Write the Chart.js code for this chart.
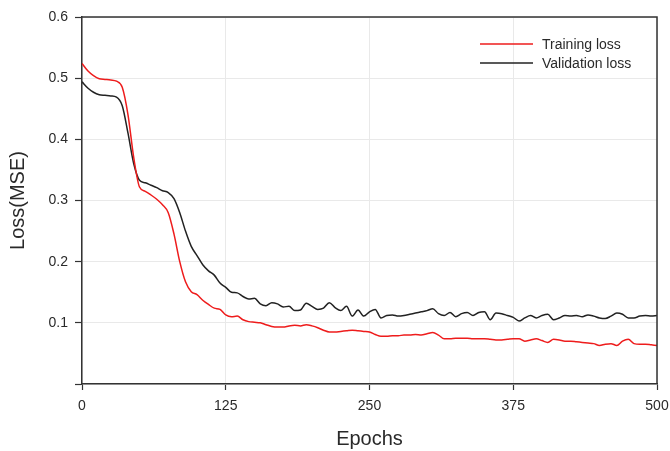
<!DOCTYPE html>
<html>
<head>
<meta charset="utf-8">
<script src="https://cdn.jsdelivr.net/npm/chart.js@4.4.1/dist/chart.umd.min.js"></script>
<style>
  html, body { margin: 0; padding: 0; background: #ffffff; }
  #wrap { width: 670px; height: 451px; position: relative; }
</style>
</head>
<body>
<div id="wrap"><canvas id="c" width="670" height="451"></canvas></div>
<script>
// Epoch positions (every 5 epochs)
const epochs = [];
for (let e = 0; e <= 500; e += 5) epochs.push(e);

// Training loss (MSE)
const trainingLoss = [
  0.524, 0.512, 0.504, 0.499, 0.498, 0.497, 0.495, 0.485, 0.440, 0.370,
  0.322, 0.315, 0.309, 0.302, 0.293, 0.280, 0.245, 0.200, 0.167, 0.151,
  0.146, 0.137, 0.130, 0.124, 0.122, 0.113, 0.110, 0.111, 0.105, 0.102,
  0.101, 0.100, 0.097, 0.094, 0.093, 0.093, 0.095, 0.096, 0.095, 0.097,
  0.095, 0.092, 0.088, 0.085, 0.085, 0.086, 0.087, 0.088, 0.087, 0.086,
  0.085, 0.081, 0.078, 0.078, 0.079, 0.079, 0.080, 0.080, 0.081, 0.080,
  0.082, 0.084, 0.080, 0.074, 0.074, 0.075, 0.075, 0.075, 0.074, 0.074,
  0.074, 0.073, 0.072, 0.072, 0.073, 0.074, 0.074, 0.070, 0.072, 0.074,
  0.071, 0.068, 0.073, 0.072, 0.070, 0.070, 0.069, 0.068, 0.067, 0.066,
  0.063, 0.065, 0.066, 0.063, 0.070, 0.073, 0.066, 0.065, 0.065, 0.064,
  0.063
];

// Validation loss (MSE)
const validationLoss = [
  0.494, 0.484, 0.477, 0.473, 0.472, 0.471, 0.469, 0.455, 0.410, 0.360,
  0.333, 0.329, 0.325, 0.321, 0.316, 0.313, 0.303, 0.280, 0.250, 0.225,
  0.210, 0.195, 0.185, 0.178, 0.165, 0.158, 0.150, 0.149, 0.143, 0.139,
  0.140, 0.131, 0.128, 0.133, 0.131, 0.126, 0.127, 0.120, 0.121, 0.132,
  0.127, 0.122, 0.124, 0.133, 0.125, 0.120, 0.127, 0.111, 0.121, 0.111,
  0.118, 0.122, 0.108, 0.112, 0.113, 0.111, 0.112, 0.114, 0.116, 0.118,
  0.120, 0.123, 0.115, 0.112, 0.117, 0.110, 0.115, 0.117, 0.112, 0.117,
  0.118, 0.105, 0.116, 0.115, 0.112, 0.109, 0.103, 0.108, 0.112, 0.108,
  0.112, 0.114, 0.105, 0.108, 0.112, 0.111, 0.112, 0.110, 0.113, 0.111,
  0.108, 0.107, 0.111, 0.116, 0.114, 0.108, 0.108, 0.111, 0.112, 0.111,
  0.112
];

const xTicks = [0, 125, 250, 375, 500];
const yTicks = [0, 0.1, 0.2, 0.3, 0.4, 0.5, 0.6];

const FONT = "'Liberation Sans', Arial, Helvetica, sans-serif";
const INK = '#2a2a2a';

// Closes the plot frame on the top and right sides
const frameBox = {
  id: 'frameBox',
  afterDraw(chart) {
    const { ctx, chartArea: a } = chart;
    ctx.save();
    ctx.strokeStyle = '#333333';
    ctx.lineWidth = 1.5;
    ctx.beginPath();
    ctx.moveTo(a.left, a.top);
    ctx.lineTo(a.right, a.top);
    ctx.lineTo(a.right, a.bottom);
    ctx.stroke();
    ctx.restore();
  }
};

// Legend drawn inside the plot, upper right
const insideLegend = {
  id: 'insideLegend',
  afterDraw(chart) {
    const { ctx, chartArea: a } = chart;
    ctx.save();
    ctx.font = '14px ' + FONT;
    ctx.textBaseline = 'middle';
    ctx.textAlign = 'left';
    chart.data.datasets.forEach((ds, i) => {
      const y = a.top + 27 + i * 19;
      const x0 = a.right - 177;
      ctx.strokeStyle = ds.borderColor;
      ctx.lineWidth = 1.5;
      ctx.beginPath();
      ctx.moveTo(x0, y);
      ctx.lineTo(x0 + 53, y);
      ctx.stroke();
      ctx.fillStyle = INK;
      ctx.fillText(ds.label, x0 + 62, y + 1);
    });
    ctx.restore();
  }
};

new Chart(document.getElementById('c'), {
  type: 'line',
  data: {
    datasets: [
      {
        label: 'Training loss',
        data: epochs.map((e, i) => ({ x: e, y: trainingLoss[i] })),
        borderColor: '#ee1c1c',
        borderWidth: 1.5,
        pointRadius: 0,
        tension: 0.4,
        cubicInterpolationMode: 'monotone',
        fill: false
      },
      {
        label: 'Validation loss',
        data: epochs.map((e, i) => ({ x: e, y: validationLoss[i] })),
        borderColor: '#222222',
        borderWidth: 1.5,
        pointRadius: 0,
        tension: 0.4,
        cubicInterpolationMode: 'monotone',
        fill: false
      }
    ]
  },
  options: {
    responsive: false,
    animation: false,
    devicePixelRatio: 1,
    layout: { padding: { top: 17, right: 13, left: 0, bottom: 0 } },
    plugins: {
      legend: { display: false },
      tooltip: { enabled: false }
    },
    scales: {
      x: {
        type: 'linear',
        min: 0,
        max: 500,
        afterBuildTicks(scale) { scale.ticks = xTicks.map(v => ({ value: v })); },
        afterFit(scale) {
          scale.height = 67;
          scale.paddingLeft = 0;
          scale.paddingRight = 0;
        },
        grid: { color: '#e9e9e9', lineWidth: 1, tickColor: '#333333', tickLength: 6, tickWidth: 1.2 },
        border: { color: '#333333', width: 1.5 },
        ticks: {
          color: INK,
          font: { family: FONT, size: 14 },
          padding: 8,
          maxRotation: 0,
          callback: v => String(v)
        },
        title: {
          display: true,
          text: 'Epochs',
          color: INK,
          font: { family: FONT, size: 20 },
          padding: { top: 0, bottom: 0 }
        }
      },
      y: {
        type: 'linear',
        min: 0,
        max: 0.6,
        afterBuildTicks(scale) { scale.ticks = yTicks.map(v => ({ value: v })); },
        afterFit(scale) {
          scale.width = 82;
          scale.paddingTop = 0;
          scale.paddingBottom = 0;
        },
        grid: { color: '#e9e9e9', lineWidth: 1, tickColor: '#333333', tickLength: 7, tickWidth: 1.2 },
        border: { color: '#333333', width: 1.5 },
        ticks: {
          color: INK,
          font: { family: FONT, size: 14 },
          padding: 7,
          callback: v => (v === 0 ? '' : v.toFixed(1))
        },
        title: {
          display: true,
          text: 'Loss(MSE)',
          color: INK,
          font: { family: FONT, size: 20 },
          padding: { top: 6, bottom: 0 }
        }
      }
    }
  },
  plugins: [frameBox, insideLegend]
});
</script>
</body>
</html>
